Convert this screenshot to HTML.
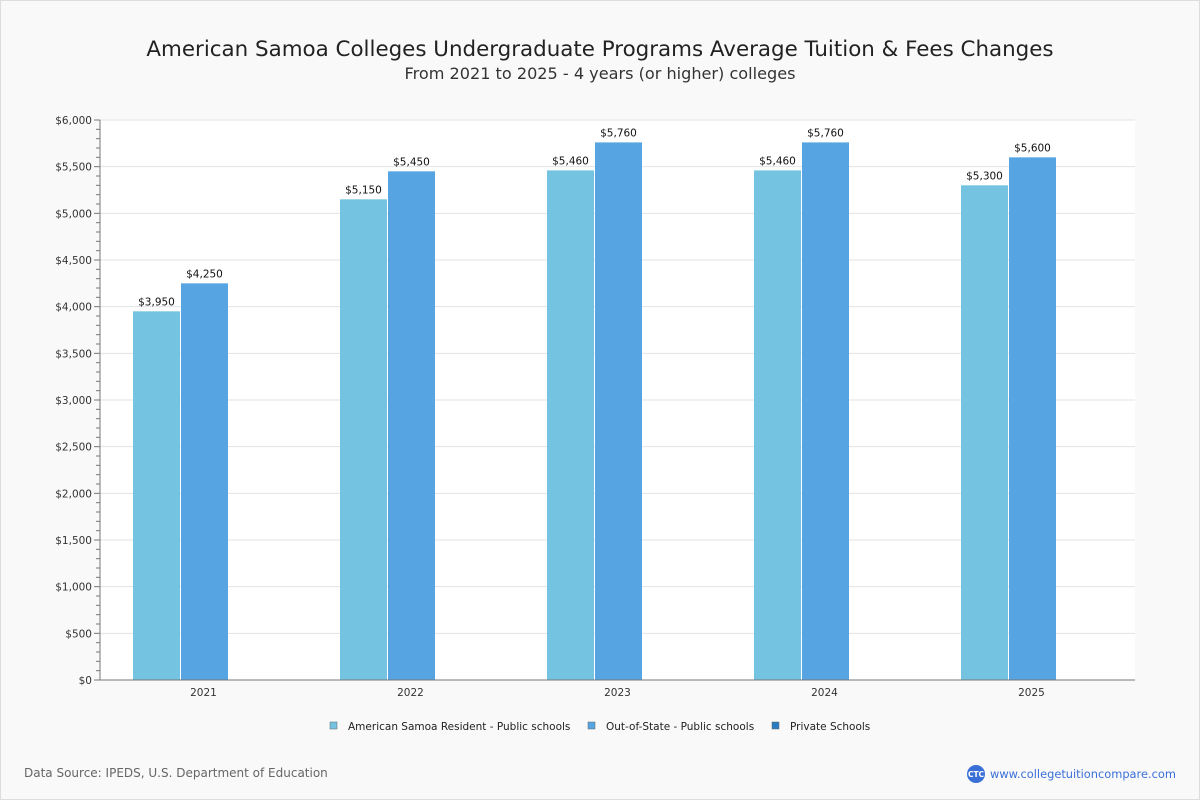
<!DOCTYPE html>
<html><head><meta charset="utf-8"><style>
body{margin:0;width:1200px;height:800px;background:#fff;font-family:"DejaVu Sans","Liberation Sans",sans-serif;}
#frame{position:absolute;left:0;top:0;width:1198px;height:798px;border:1px solid #ddd;background:#f9f9f9;}
</style></head><body>
<div id="frame"></div>
<svg id="c" width="1200" height="800" style="position:absolute;left:0;top:0">
<text x="600" y="56" text-anchor="middle" font-size="21.4" fill="#222">American Samoa Colleges Undergraduate Programs Average Tuition &amp; Fees Changes</text>
<text x="600" y="79" text-anchor="middle" font-size="16.1" fill="#333">From 2021 to 2025 - 4 years (or higher) colleges</text>
<rect x="100" y="120" width="1035" height="560" fill="#fff"/>
<g id="grid"></g><g id="bars"></g><g id="axes"></g>
<g font-size="10.5" fill="#222">
<rect x="330" y="722" width="7" height="7" fill="#74c3e1" stroke="#666" stroke-width="0.5"/>
<text x="348" y="730">American Samoa Resident - Public schools</text>
<rect x="588" y="722" width="7" height="7" fill="#56a5e2" stroke="#666" stroke-width="0.5"/>
<text x="606" y="730">Out-of-State - Public schools</text>
<rect x="772" y="722" width="7" height="7" fill="#2a7bc0" stroke="#666" stroke-width="0.5"/>
<text x="790" y="730">Private Schools</text>
</g>
<text x="24" y="777" font-size="12" fill="#666">Data Source: IPEDS, U.S. Department of Education</text>
<circle cx="976" cy="774" r="9" fill="#3a6fd8"/>
<text x="976" y="777" text-anchor="middle" font-size="7.5" fill="#fff" font-weight="bold">CTC</text>
<text x="990" y="778" font-size="11.4" fill="#3a6fd8">www.collegetuitioncompare.com</text>
</svg>
<script>
const categories=["2021","2022","2023","2024","2025"];
const resident=[3950,5150,5460,5460,5300];
const outOfState=[4250,5450,5760,5760,5600];
const yTicks=[0,500,1000,1500,2000,2500,3000,3500,4000,4500,5000,5500,6000];
const NS="http://www.w3.org/2000/svg";
const L=100,R=1135,T=120,B=680,YMAX=6000;
const y=v=>B-(v/YMAX)*(B-T);
const band=(R-L)/categories.length;
const bw=47;
function mk(tag,attrs,parent,txt){const e=document.createElementNS(NS,tag);for(const k in attrs)e.setAttribute(k,attrs[k]);if(txt!==undefined)e.textContent=txt;document.getElementById(parent).appendChild(e);return e;}
const fmt=v=>"$"+v.toLocaleString("en-US");
yTicks.forEach(t=>{
  const g=mk("line",{x1:L,x2:R,y1:y(t),y2:y(t),stroke:"#e3e3e3"},"grid");
  
  
  const tl=mk("text",{x:L-8,y:y(t)+4,"text-anchor":"end","font-size":10.5,fill:"#333"},"axes",fmt(t));
  
  
});
for(let v=0;v<=YMAX;v+=100){
  const big=v%500===0;
  const tk=mk("line",{x1:big?L-6:L-4,x2:L,y1:y(v),y2:y(v),stroke:"#777"},"axes");
  
  
}
const ya=mk("line",{x1:L,x2:L,y1:T,y2:B,stroke:"#777"},"axes");


const xa=mk("line",{x1:L,x2:R,y1:B,y2:B,stroke:"#777"},"axes");


categories.forEach((c,i)=>{
  const cx=L+band*(i+0.5);
  const start=cx-1.5*bw;
  [[resident,"#74c3e1","resident"],[outOfState,"#56a5e2","out-of-state"]].forEach((s,j)=>{
    const v=s[0][i],x=start+j*(bw+1);
    const r=mk("rect",{x:x,y:y(v),width:bw,height:B-y(v),fill:s[1]},"bars");
    
    
    const lb=mk("text",{x:x+bw/2,y:y(v)-6,"text-anchor":"middle","font-size":10.5,fill:"#111"},"bars",fmt(v));
    
    
  });
  const xt=mk("text",{x:cx,y:B+16,"text-anchor":"middle","font-size":10.5,fill:"#333"},"axes",c);
  
  
});
</script>
</body></html>
